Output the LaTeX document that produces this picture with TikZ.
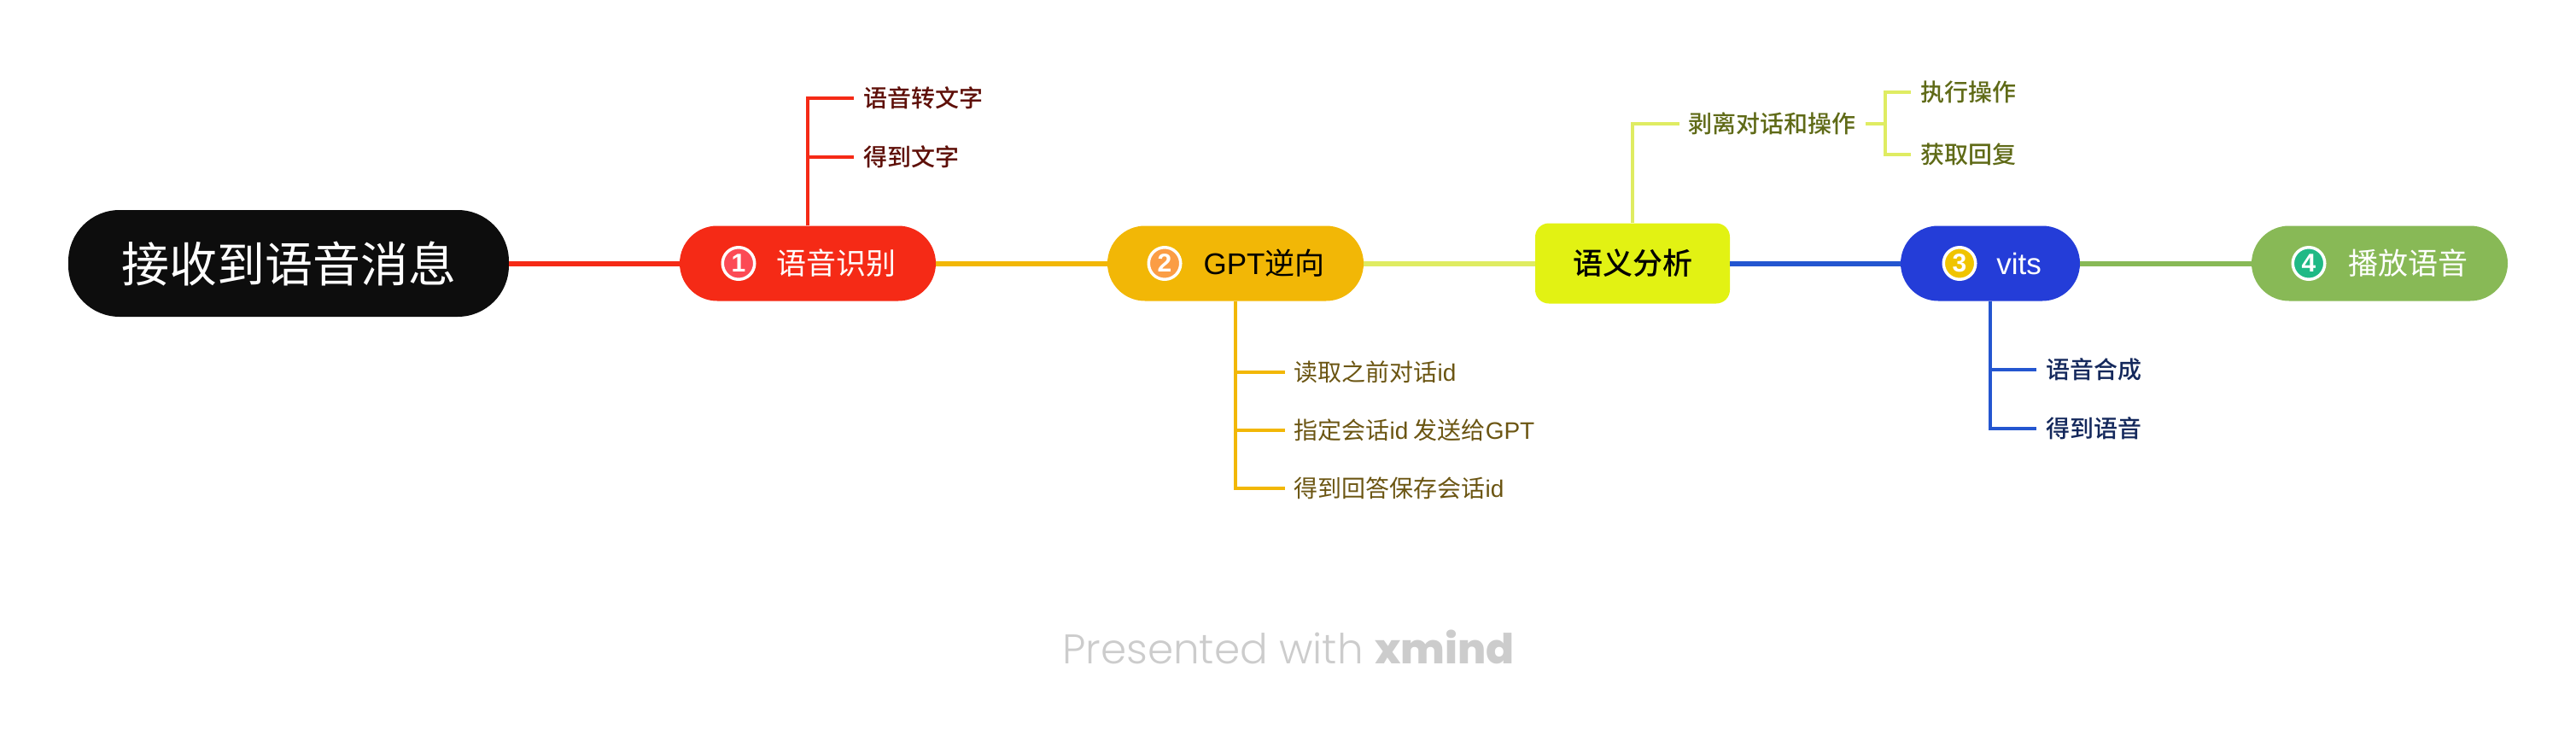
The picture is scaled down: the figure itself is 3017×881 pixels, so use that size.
\documentclass[tikz,border=0pt]{standalone}
\usepackage{fontspec}
\setmainfont{Liberation Sans}
\newfontfamily\cjk{Noto Sans CJK SC}
\newfontfamily\cjkmed{Noto Sans CJK SC Medium}
\newfontfamily\brandlight{Poppins Light}
\newfontfamily\brandbold{Poppins ExtraBold}
\definecolor{rootfill}{HTML}{0D0D0D}
\definecolor{asrred}{HTML}{F52A16}
\definecolor{gptyellow}{HTML}{F2B706}
\definecolor{semlime}{HTML}{E2F213}
\definecolor{semline}{HTML}{DFEC62}
\definecolor{vitsblue}{HTML}{243DD8}
\definecolor{vitsline}{HTML}{2456D0}
\definecolor{playgreen}{HTML}{88B956}
\definecolor{asrtext}{HTML}{5E0F08}
\definecolor{gpttext}{HTML}{6B5512}
\definecolor{semtext}{HTML}{5F6A17}
\definecolor{vitstext}{HTML}{14285C}
\definecolor{markone}{HTML}{FC4A55}
\definecolor{marktwo}{HTML}{FB9D45}
\definecolor{markthree}{HTML}{F0C400}
\definecolor{markfour}{HTML}{1FB985}
\tikzset{
  pill/.style={minimum width=300pt, minimum height=88pt, rounded corners=44pt, inner sep=0pt,
    font=\fontsize{35pt}{35pt}\cjk, execute at begin node={\hspace*{67pt}}},
  leaf/.style={anchor=west, inner xsep=11pt, inner ysep=0pt, text height=24pt, text depth=4pt,
    font=\fontsize{28pt}{28pt}\cjk},
  leafmed/.style={leaf, font=\fontsize{28pt}{28pt}\cjkmed},
  mainline/.style={line width=6pt},
  subline/.style={line width=4pt},
  marker/.style={circle, draw=white, line width=3.5pt, minimum size=37.5pt, inner sep=0pt,
    text=white, font=\fontsize{30pt}{30pt}\bfseries}
}
\begin{document}
\begin{tikzpicture}[x=1pt, y=-1pt]
\useasboundingbox (0, 0) rectangle (3017, 881);
% main row
\node[fill=rootfill, text=white, minimum width=516pt, minimum height=125pt, rounded corners=60pt, inner sep=0pt, font=\fontsize{56pt}{56pt}\cjk] (root) at (338, 308.5) {接收到语音消息};
\node[pill, fill=asrred, text=white] (asr) at (946, 308.5) {语音识别};
\node[pill, fill=gptyellow, text=black] (gpt) at (1447, 308.5) {{\rmfamily GPT}逆向};
\node[fill=semlime, text=black, minimum width=228pt, minimum height=94pt, rounded corners=16pt, inner sep=0pt, font=\fontsize{35pt}{35pt}\cjkmed] (sem) at (1912, 308.5) {语义分析};
\node[pill, fill=vitsblue, text=white, minimum width=210pt] (vits) at (2331, 308.5) {{\rmfamily vits}};
\node[pill, fill=playgreen, text=white] (play) at (2787, 308.5) {播放语音};
% markers
\node[marker, fill=markone] (asrmark) at (865, 308.5) {1};
\node[marker, fill=marktwo] (gptmark) at (1364, 308.5) {2};
\node[marker, fill=markthree] (vitsmark) at (2295, 308.5) {3};
\node[marker, fill=markfour] (playmark) at (2704, 308.5) {4};
% links
\draw[mainline, asrred] (root) -- (asr);
\draw[mainline, gptyellow] (asr) -- (gpt);
\draw[mainline, semline] (gpt) -- (sem);
\draw[mainline, vitsline] (sem) -- (vits);
\draw[mainline, playgreen] (vits) -- (play);
% speech recognition
\node[leafmed, text=asrtext] (asrone) at (1000, 115) {语音转文字};
\node[leafmed, text=asrtext] (asrtwo) at (1000, 184) {得到文字};
\draw[subline, asrred] (asr.north) |- (asrone.west);
\draw[subline, asrred] (asr.north) |- (asrtwo.west);
% gpt
\node[leaf, text=gpttext] (gptone) at (1504.5, 436) {读取之前对话{\rmfamily id}};
\node[leaf, text=gpttext] (gpttwo) at (1504.5, 504) {指定会话{\rmfamily id} 发送给{\rmfamily GPT}};
\node[leaf, text=gpttext] (gptthree) at (1504.5, 572) {得到回答保存会话{\rmfamily id}};
\draw[subline, gptyellow] (gpt.south) |- (gptone.west);
\draw[subline, gptyellow] (gpt.south) |- (gpttwo.west);
\draw[subline, gptyellow] (gpt.south) |- (gptthree.west);
% semantic
\node[leafmed, text=semtext] (semsub) at (1966.5, 145) {剥离对话和操作};
\node[leafmed, text=semtext] (semone) at (2238, 108) {执行操作};
\node[leafmed, text=semtext] (semtwo) at (2238, 181) {获取回复};
\coordinate (semfork) at (2208, 145);
\draw[subline, semline] (sem.north) |- (semsub.west);
\draw[subline, semline] (semsub.east) -- (semfork);
\draw[subline, semline] (semfork) |- (semone.west);
\draw[subline, semline] (semfork) |- (semtwo.west);
% vits
\node[leafmed, text=vitstext] (vitsone) at (2385, 433) {语音合成};
\node[leafmed, text=vitstext] (vitstwo) at (2385, 502) {得到语音};
\draw[subline, vitsline] (vits.south) |- (vitsone.west);
\draw[subline, vitsline] (vits.south) |- (vitstwo.west);
% footer
\node[anchor=base west, inner sep=0pt, text=black!20, font=\fontsize{48.5pt}{48.5pt}\brandlight] (brand) at (1244, 777) {Presented with {\brandbold xmind}};
\end{tikzpicture}
\end{document}
